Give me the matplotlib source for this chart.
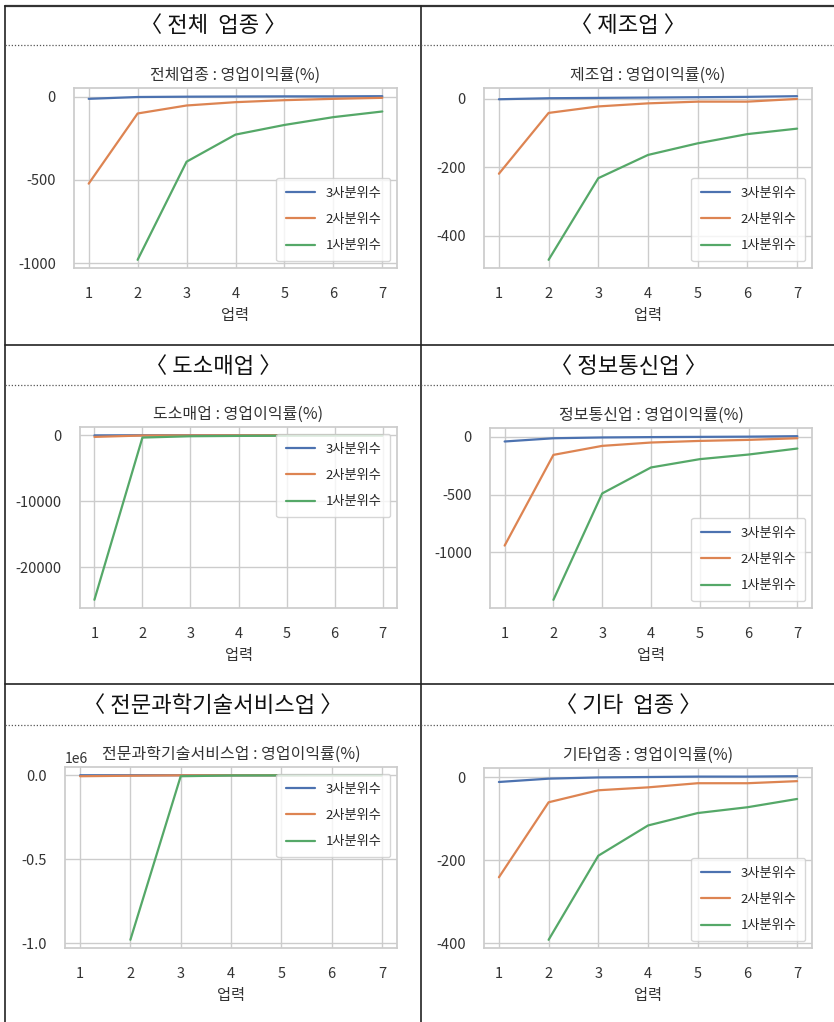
import numpy as np
import matplotlib
matplotlib.use("Agg")
import matplotlib.pyplot as plt
from matplotlib.lines import Line2D
from matplotlib.ticker import MultipleLocator
import seaborn as sns

sns.set_theme(style="whitegrid", palette="deep")
plt.rcParams['font.family'] = ['Noto Sans CJK KR', 'DejaVu Sans']
plt.rcParams['axes.unicode_minus'] = False

W, H = 834, 1022

years = [1, 2, 3, 4, 5, 6, 7]
labels = ['3사분위수', '2사분위수', '1사분위수']
nan = np.nan

# operating margin (%) by business age, quartiles per industry
all_q3 = [-12, -1, 1, 2, 3, 3, 4]
all_q2 = [-522, -100, -52, -32, -20, -12, -6]
all_q1 = [nan, -980, -390, -227, -169, -122, -88]

mfg_q3 = [-1, 2, 3, 4, 5, 6, 8]
mfg_q2 = [-219, -41, -22, -13, -8, -8, 0]
mfg_q1 = [nan, -471, -232, -164, -130, -103, -87]

trade_q3 = [-20, -3, 0, 1, 2, 2, 3]
trade_q2 = [-250, -40, -20, -12, -8, -5, -3]
trade_q1 = [-24900, -350, -150, -100, -70, -50, -40]

ict_q3 = [-40, -12, -5, -2, 0, 2, 6]
ict_q2 = [-942, -156, -78, -49, -35, -26, -12]
ict_q1 = [nan, -1412, -490, -265, -193, -153, -101]

sci_q3 = [-50, -10, 0, 5, 10, 10, 15]
sci_q2 = [-6000, -3000, -500, -200, -100, -60, -30]
sci_q1 = [nan, -980000, -6000, -1500, -800, -400, -200]

etc_q3 = [-11, -3, 0, 1, 2, 2, 3]
etc_q2 = [-241, -60, -31, -24, -14, -14, -9]
etc_q1 = [nan, -392, -189, -116, -86, -72, -52]

headers = ['〈 전체  업종 〉', '〈 제조업 〉', '〈 도소매업 〉',
           '〈 정보통신업 〉', '〈 전문과학기술서비스업 〉', '〈 기타  업종 〉']
titles = ['전체업종 : 영업이익률(%)', '제조업 : 영업이익률(%)', '도소매업 : 영업이익률(%)',
          '정보통신업 : 영업이익률(%)', '전문과학기술서비스업 : 영업이익률(%)', '기타업종 : 영업이익률(%)']
series = [(all_q3, all_q2, all_q1), (mfg_q3, mfg_q2, mfg_q1),
          (trade_q3, trade_q2, trade_q1), (ict_q3, ict_q2, ict_q1),
          (sci_q3, sci_q2, sci_q1), (etc_q3, etc_q2, etc_q1)]
steps = [500, 200, 10000, 500, 500000, 200]
legend_locs = ['lower right', 'lower right', 'upper right',
               'lower right', 'upper right', 'lower right']

# axes boxes in pixels: left, top, right, bottom
boxes = [(74, 88, 397, 268), (484, 88, 812, 268),
         (80, 427, 397, 608), (490, 428, 812, 608),
         (65, 767, 397, 948), (484, 768, 812, 948)]
header_pos = [(213, 25), (628, 25), (213, 366), (628, 366), (213, 705), (628, 705)]

fig = plt.figure(figsize=(W / 100, H / 100), dpi=100)


def fx(x):
    return x / W


def fy(y):
    return 1 - y / H


def hline(y, x0, x1, **kw):
    fig.add_artist(Line2D([fx(x0), fx(x1)], [fy(y), fy(y)], transform=fig.transFigure, **kw))


def vline(x, y0, y1, **kw):
    fig.add_artist(Line2D([fx(x), fx(x)], [fy(y0), fy(y1)], transform=fig.transFigure, **kw))


# table frame
hline(6, 5, W, color='#333333', lw=1.6)
vline(5, 6, H, color='#222222', lw=1.2)
vline(421, 6, H, color='#222222', lw=1.2)
hline(345, 5, W, color='#222222', lw=1.2)
hline(684, 5, W, color='#222222', lw=1.2)
for y in [45, 385, 725]:
    hline(y, 5, W, color='#555555', lw=0.9, linestyle=(0, (1, 1.5)))

for (hx, hy), h in zip(header_pos, headers):
    fig.text(fx(hx), fy(hy), h, ha='center', va='center', fontsize=16, color='#111111')

for box, title, data, step, loc in zip(boxes, titles, series, steps, legend_locs):
    l, t, r, b = box
    ax = fig.add_axes([fx(l), fy(b), (r - l) / W, (b - t) / H])
    for vals, lab in zip(data, labels):
        ax.plot(years, vals, lw=1.6, label=lab)
    ax.set_title(title, fontsize=11.5, color='#333333', pad=6)
    ax.set_xlabel('업력', fontsize=11, color='#333333', labelpad=4)
    ax.set_xticks(years)
    ax.yaxis.set_major_locator(MultipleLocator(step))
    ax.tick_params(axis='x', labelsize=10.5, pad=8, colors='#333333')
    ax.tick_params(axis='y', labelsize=10.5, pad=7, colors='#333333')
    ax.yaxis.get_offset_text().set_fontsize(10)
    ax.yaxis.get_offset_text().set_color('#333333')
    ax.legend(loc=loc, fontsize=9.5, labelspacing=1.0, handlelength=2.2,
              borderpad=0.7, frameon=True)

fig.savefig('out.png', dpi=100)
